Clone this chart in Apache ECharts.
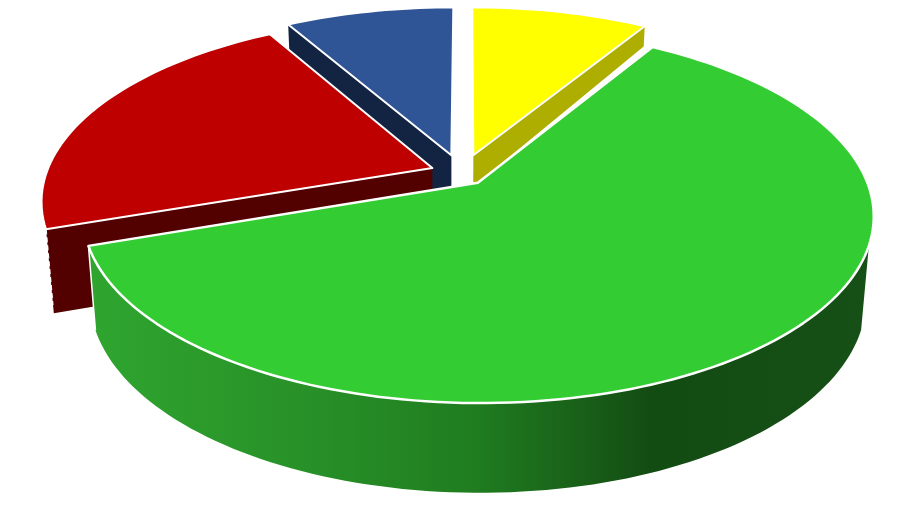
<!DOCTYPE html>
<html>
<head>
<meta charset="utf-8">
<style>html,body{margin:0;padding:0;background:#fff}#c{width:924px;height:518px}</style>
<script src="https://cdn.jsdelivr.net/npm/echarts@6/dist/echarts.min.js"></script>
</head>
<body>
<div id="c"></div>
<script>
// Data, in slice order clockwise from 12 o'clock
const categories = ['Yellow', 'Green', 'Red', 'Blue'];
const shares = [8.7, 61, 22, 8.3];

// Styles
const topColors = ['#FFFF00', '#33CC33', '#BF0000', '#2F5597'];
const sideColors = ['#AEAE00', '#33CC33', '#520000', '#132442'];
const rimStops = [
  [0, '#2FA52F'], [0.3, '#278F27'], [0.5, '#1F7C1F'], [0.62, '#196219'], [0.72, '#134C13'], [1, '#175017']
];

// 3D view parameters (layout only)
const view = { x0: 465, y0: 170.5, a: 385, b: 178, p: 0.171, vx: 458, sx: 0.981, sy: 1.034, dy: 76 };
const explodeU = [0.022, 0.033, -0.085, -0.036];
const explodeV = [0.087, -0.068, 0.014, 0.087];
const drawRank = [0, 3, 2, 1];
const rimEndAngle = -19;

const total = shares.reduce((s, v) => s + v, 0);

function planePoint(U, V) {
  const w = 1 + view.p * V;
  return [view.x0 + view.a * U / w, view.y0 - view.b * V / w];
}
function rimPoint(i, deg) {
  const t = deg * Math.PI / 180;
  return planePoint(Math.cos(t) + explodeU[i], Math.sin(t) + explodeV[i]);
}
function apexPoint(i) {
  return planePoint(explodeU[i], explodeV[i]);
}
function lower(pt) {
  return [view.vx + (pt[0] - view.vx) * view.sx, view.sy * pt[1] + view.dy];
}
function arc(i, from, to) {
  const n = Math.max(2, Math.ceil(Math.abs(to - from) / 1.5));
  const pts = [];
  for (let k = 0; k <= n; k++) pts.push(rimPoint(i, from + (to - from) * k / n));
  return pts;
}

function renderItem(params, api) {
  const i = params.dataIndex;
  let before = 0;
  for (let k = 0; k < i; k++) before += shares[k];
  const value = api.value(0);
  const start = 90 - before / total * 360;
  const end = start - value / total * 360;
  const rank = drawRank[i] * 10;
  const a = apexPoint(i);
  const children = [];

  // visible cut face: yellow along its end edge; red and blue along their start edges
  if (i !== 1) {
    const e = rimPoint(i, i === 0 ? end : start);
    children.push({
      type: 'polygon', z2: rank,
      shape: { points: [a, e, lower(e), lower(a)] },
      style: { fill: sideColors[i] }
    });
    if (i === 2) {
      const b = lower(e);
      children.push({
        type: 'line', z2: rank + 1,
        shape: { x1: e[0], y1: e[1], x2: b[0] - 1, y2: b[1] - 8 },
        style: { stroke: '#fff', lineWidth: 1.5, lineDash: [5, 3] }
      });
    }
  }
  // outer rim of the front slice
  if (i === 1) {
    const upper = arc(i, end, rimEndAngle);
    const base = upper.map(lower).reverse();
    children.push({
      type: 'polygon', z2: rank,
      shape: { points: upper.concat(base) },
      style: {
        fill: {
          type: 'linear', x: 0, y: 0, x2: 1, y2: 0,
          colorStops: rimStops.map(s => ({ offset: s[0], color: s[1] }))
        }
      }
    });
    const e = rimPoint(i, end);
    children.push({
      type: 'polyline', z2: rank + 1,
      shape: { points: [e, lower(e)] },
      style: { stroke: '#fff', lineWidth: 1.5, fill: 'none' }
    });
    // white halo behind the back edge of the front slice
    const s = rimPoint(i, start);
    children.push({
      type: 'polygon', z2: rank + 1,
      shape: { points: [a, s, [s[0] - 5, s[1] - 4]] },
      style: { fill: '#fff' }
    });
  }
  // top surface
  children.push({
    type: 'polygon', z2: rank + 2,
    shape: { points: [a].concat(arc(i, start, end)) },
    style: { fill: topColors[i], stroke: '#fff', lineWidth: i === 1 ? 2.5 : 2, lineJoin: 'round' }
  });
  return { type: 'group', children: children };
}

const chart = echarts.init(document.getElementById('c'), null, { renderer: 'canvas' });
chart.setOption({
  backgroundColor: '#fff',
  animation: false,
  tooltip: { show: false },
  series: [{
    type: 'custom',
    coordinateSystem: 'none',
    renderItem: renderItem,
    silent: true,
    clip: false,
    data: categories.map((c, i) => ({ name: c, value: [shares[i]] }))
  }]
});
</script>
</body>
</html>
